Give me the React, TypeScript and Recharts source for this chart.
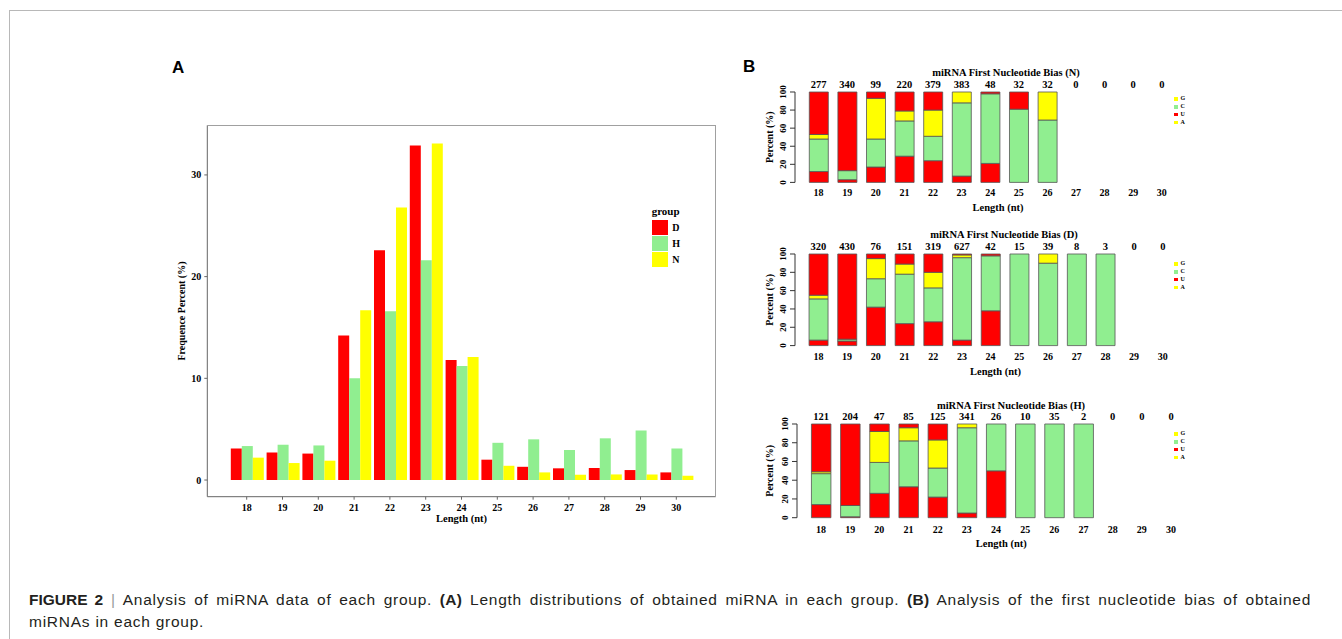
import React from 'react'
import { BarChart, Bar, XAxis, YAxis, Label } from 'recharts'

const SERIF = '"Liberation Serif", "Times New Roman", Times, serif'
const SANS = '"Liberation Sans", Arial, Helvetica, sans-serif'
const RED = '#FF0000'
const GREEN = '#90EE90'
const YELLOW = '#FFFF00'

// ---- panel A: length distribution (frequence percent per group)
const lengths = ['18', '19', '20', '21', '22', '23', '24', '25', '26', '27', '28', '29', '30']
const groupD = [3.1, 2.7, 2.6, 14.2, 22.6, 32.9, 11.8, 2.0, 1.3, 1.15, 1.18, 0.98, 0.75]
const groupH = [3.34, 3.47, 3.4, 10.0, 16.6, 21.6, 11.2, 3.66, 4.0, 2.95, 4.1, 4.87, 3.1]
const groupN = [2.2, 1.67, 1.9, 16.7, 26.8, 33.1, 12.1, 1.4, 0.75, 0.52, 0.55, 0.55, 0.42]
const freqTicks = [0, 10, 20, 30]
const groupLegend = [
  { label: 'D', color: RED },
  { label: 'H', color: GREEN },
  { label: 'N', color: YELLOW },
]

// ---- panel B: first nucleotide bias, stacked segments (percent), bottom -> top
const nU = [12, 3, 17, 29, 24, 7, 21, 0, 0, 0, 0, 0, 0]
const nC = [36, 10, 31, 39, 27, 81, 77, 81, 69, 0, 0, 0, 0]
const nA = [5, 0, 45, 11, 29, 12, 0, 0, 31, 0, 0, 0, 0]
const nG = [47, 87, 7, 21, 20, 0, 2, 19, 0, 0, 0, 0, 0]
const nCounts = [277, 340, 99, 220, 379, 383, 48, 32, 32, 0, 0, 0, 0]

const dU = [6, 5, 42, 24, 26, 6, 38, 0, 0, 0, 0, 0, 0]
const dC = [45, 2, 31, 54, 37, 90, 60, 100, 90, 100, 100, 0, 0]
const dA = [4, 0, 22, 11, 17, 3, 0, 0, 10, 0, 0, 0, 0]
const dG = [45, 93, 5, 11, 20, 1, 2, 0, 0, 0, 0, 0, 0]
const dCounts = [320, 430, 76, 151, 319, 627, 42, 15, 39, 8, 3, 0, 0]

const hU = [14, 1, 26, 33, 22, 5, 50, 0, 0, 0, 0, 0, 0]
const hC = [33, 12, 33, 49, 31, 91, 50, 100, 100, 100, 0, 0, 0]
const hA = [2, 0, 33, 14, 30, 4, 0, 0, 0, 0, 0, 0, 0]
const hG = [51, 87, 8, 4, 17, 0, 0, 0, 0, 0, 0, 0, 0]
const hCounts = [121, 204, 47, 85, 125, 341, 26, 10, 35, 2, 0, 0, 0]

const percentTicks = [0, 20, 40, 60, 80, 100]
const nucleotideLegend = [
  { label: 'G', color: YELLOW },
  { label: 'C', color: GREEN },
  { label: 'U', color: RED },
  { label: 'A', color: YELLOW },
]

const lengthRows = lengths.map((len, i) => ({ len, D: groupD[i], H: groupH[i], N: groupN[i] }))

function biasRows(u: number[], c: number[], a: number[], g: number[]) {
  return lengths.map((len, i) => ({ len, U: u[i], C: c[i], A: a[i], G: g[i] }))
}

const boldSerif = { fontFamily: SERIF, fontWeight: 'bold' as const, fill: '#000' }

function LengthChart() {
  return (
    <div style={{ position: 'absolute', left: 140, top: 100 }}>
      <BarChart
        width={600}
        height={440}
        data={lengthRows}
        margin={{ top: 25.3, right: 24.3, bottom: 8.3, left: 0 }}
        barGap={0}
        barCategoryGap={2}
      >
        <XAxis
          dataKey="len"
          height={35}
          interval={0}
          padding={{ left: 21.5, right: 21.5 }}
          axisLine={{ stroke: '#666' }}
          tickLine={{ stroke: '#666' }}
          tickSize={3}
          tickMargin={4.2}
          tick={{ ...boldSerif, fontSize: 10 }}
        >
          <Label
            value="Length (nt)"
            position="insideBottom"
            offset={10}
            style={{ ...boldSerif, fontSize: 10.5 }}
          />
        </XAxis>
        <YAxis
          width={67.3}
          domain={[-1.64, 34.88]}
          ticks={freqTicks}
          interval={0}
          axisLine={{ stroke: '#666' }}
          tickLine={{ stroke: '#666' }}
          tickSize={3}
          tickMargin={3}
          tick={{ ...boldSerif, fontSize: 10 }}
        >
          <Label
            value="Frequence Percent (%)"
            angle={-90}
            position="insideLeft"
            offset={41}
            style={{ ...boldSerif, fontSize: 10, textAnchor: 'middle' }}
          />
        </YAxis>
        <Bar dataKey="D" fill={RED} isAnimationActive={false} />
        <Bar dataKey="H" fill={GREEN} isAnimationActive={false} />
        <Bar dataKey="N" fill={YELLOW} isAnimationActive={false} />
      </BarChart>
      {/* panel border: top and right edges (left/bottom come from the axes) */}
      <div
        style={{
          position: 'absolute',
          left: 67.3,
          top: 25.3,
          width: 508.4,
          height: 371.4,
          boxSizing: 'border-box',
          borderTop: '1px solid #a0a0a0',
          borderRight: '1px solid #a0a0a0',
          pointerEvents: 'none',
        }}
      />
      {/* legend sits inside the panel, above bars 29-30 */}
      <div style={{ position: 'absolute', left: 511.7, top: 104, fontFamily: SERIF, fontWeight: 'bold' }}>
        <div style={{ fontSize: 11, lineHeight: '14px', height: 15.5 }}>group</div>
        {groupLegend.map((g) => (
          <div key={g.label} style={{ display: 'flex', alignItems: 'center', height: 16 }}>
            <div style={{ width: 16, height: 15, background: g.color }} />
            <span style={{ fontSize: 10, marginLeft: 4.5 }}>{g.label}</span>
          </div>
        ))}
      </div>
    </div>
  )
}

interface BiasProps {
  title: string
  rows: ReturnType<typeof biasRows>
  counts: number[]
  axisX: number
  y100: number
  y0: number
  firstCenter: number
  pitch: number
  barSize: number
  titleX: number
  titleY: number
  legendTop: number
  labelGap: number
  lenDx: number
}

// eslint-disable-next-line @typescript-eslint/no-explicit-any
function RotatedTick(props: any) {
  const { x, y, payload } = props
  return (
    <text
      transform={`translate(${x},${y}) rotate(-90)`}
      textAnchor="middle"
      dominantBaseline="central"
      fontSize={9}
      fontFamily={SERIF}
      fontWeight="bold"
      fill="#000"
    >
      {payload.value}
    </text>
  )
}

function BiasChart(p: BiasProps) {
  const chartLeft = 740
  const chartTop = p.y100 - 40
  const width = 460
  const height = p.y0 - p.y100 + 75
  const bandStart = p.firstCenter - p.pitch / 2
  const bandEnd = bandStart + p.pitch * lengths.length
  const padLeft = bandStart - p.axisX
  return (
    <>
      <div
        style={{
          position: 'absolute',
          left: p.titleX - 150,
          width: 300,
          top: p.titleY - 7,
          height: 14,
          lineHeight: '14px',
          textAlign: 'center',
          fontFamily: SERIF,
          fontWeight: 'bold',
          fontSize: 10.5,
        }}
      >
        {p.title}
      </div>
      <div style={{ position: 'absolute', left: chartLeft, top: chartTop }}>
        <BarChart
          width={width}
          height={height}
          data={p.rows}
          margin={{ top: 20, right: chartLeft + width - bandEnd, bottom: 5, left: 0 }}
        >
          <XAxis
            dataKey="len"
            height={30}
            interval={0}
            padding={{ left: padLeft, right: 0 }}
            axisLine={false}
            tickLine={false}
            tickSize={0}
            tickMargin={p.labelGap}
            tick={{ ...boldSerif, fontSize: 10 }}
          >
            <Label
              value="Length (nt)"
              position="insideBottom"
              offset={1}
              dx={p.lenDx}
              style={{ ...boldSerif, fontSize: 10.5 }}
            />
          </XAxis>
          <XAxis
            xAxisId="count"
            orientation="top"
            dataKey="len"
            height={20}
            interval={0}
            padding={{ left: padLeft, right: 0 }}
            axisLine={false}
            tickLine={false}
            tickSize={0}
            tickMargin={3.8}
            tickFormatter={(_v: string, i: number) => String(p.counts[i])}
            tick={{ ...boldSerif, fontSize: 10.5 }}
          />
          <YAxis
            width={p.axisX - chartLeft}
            domain={[0, 100]}
            ticks={percentTicks}
            interval={0}
            axisLine={{ stroke: '#333' }}
            tickLine={{ stroke: '#333' }}
            tickSize={5}
            tickMargin={7}
            tick={<RotatedTick />}
          >
            <Label
              value="Percent (%)"
              angle={-90}
              position="insideLeft"
              offset={29}
              style={{ ...boldSerif, fontSize: 10, textAnchor: 'middle' }}
            />
          </YAxis>
          <Bar dataKey="U" stackId="s" barSize={p.barSize} fill={RED} stroke="#555" strokeWidth={0.8} isAnimationActive={false} />
          <Bar dataKey="C" stackId="s" barSize={p.barSize} fill={GREEN} stroke="#555" strokeWidth={0.8} isAnimationActive={false} />
          <Bar dataKey="A" stackId="s" barSize={p.barSize} fill={YELLOW} stroke="#555" strokeWidth={0.8} isAnimationActive={false} />
          <Bar dataKey="G" stackId="s" barSize={p.barSize} fill={RED} stroke="#555" strokeWidth={0.8} isAnimationActive={false} />
        </BarChart>
      </div>
      <div style={{ position: 'absolute', left: 1174, top: p.legendTop - 4, fontFamily: SERIF, fontWeight: 'bold' }}>
        {nucleotideLegend.map((n) => (
          <div key={n.label} style={{ display: 'flex', alignItems: 'center', height: 7.9 }}>
            <div style={{ width: 3.5, height: 3.5, background: n.color }} />
            <span style={{ fontSize: 6, marginLeft: 3, lineHeight: '7px' }}>{n.label}</span>
          </div>
        ))}
      </div>
    </>
  )
}

export default function App() {
  return (
    <div
      style={{
        position: 'absolute',
        left: 0,
        top: 0,
        width: 1342,
        height: 639,
        overflow: 'hidden',
        background: '#fff',
        fontFamily: SERIF,
      }}
    >
      {/* figure frame: top and left rule only */}
      <div
        style={{
          position: 'absolute',
          left: 9,
          top: 10,
          width: 1340,
          height: 640,
          borderTop: '1px solid #b8b8b8',
          borderLeft: '1px solid #b8b8b8',
        }}
      />

      <div style={{ position: 'absolute', left: 172, top: 57, fontFamily: SANS, fontWeight: 'bold', fontSize: 17, lineHeight: '22px' }}>A</div>
      <div style={{ position: 'absolute', left: 743, top: 56, fontFamily: SANS, fontWeight: 'bold', fontSize: 17, lineHeight: '22px' }}>B</div>

      <LengthChart />

      <BiasChart
        title="miRNA First Nucleotide Bias (N)"
        rows={biasRows(nU, nC, nA, nG)}
        counts={nCounts}
        axisX={795}
        y100={92.3}
        y0={182.7}
        firstCenter={818.6}
        pitch={28.6}
        barSize={19}
        titleX={1006}
        titleY={73}
        legendTop={99}
        labelGap={6.7}
        lenDx={12.5}
      />
      <BiasChart
        title="miRNA First Nucleotide Bias (D)"
        rows={biasRows(dU, dC, dA, dG)}
        counts={dCounts}
        axisX={795}
        y100={253.7}
        y0={345.3}
        firstCenter={818.4}
        pitch={28.7}
        barSize={19}
        titleX={1004}
        titleY={235}
        legendTop={264}
        labelGap={7.8}
        lenDx={9.5}
      />
      <BiasChart
        title="miRNA First Nucleotide Bias (H)"
        rows={biasRows(hU, hC, hA, hG)}
        counts={hCounts}
        axisX={797}
        y100={424}
        y0={517.7}
        firstCenter={821}
        pitch={29.17}
        barSize={19.5}
        titleX={1011}
        titleY={406}
        legendTop={434}
        labelGap={8.7}
        lenDx={10}
      />

      {/* caption: justified paragraph, first line stretched to full width */}
      <div
        style={{
          position: 'absolute',
          left: 29,
          top: 589,
          width: 1282,
          fontFamily: SANS,
          fontSize: 15.5,
          lineHeight: '22px',
          color: '#231F20',
          letterSpacing: 0.75,
        }}
      >
        <div style={{ textAlign: 'justify', textAlignLast: 'justify' }}>
          <b style={{ letterSpacing: 0 }}>FIGURE 2</b> <span style={{ color: '#999' }}>|</span> Analysis of miRNA data of
          each group. <b style={{ letterSpacing: 0.3 }}>(A)</b> Length distributions of obtained miRNA in each group.{' '}
          <b style={{ letterSpacing: 0.3 }}>(B)</b> Analysis of the first nucleotide bias of obtained
        </div>
        <div style={{ whiteSpace: 'nowrap' }}>miRNAs in each group.</div>
      </div>
    </div>
  )
}
